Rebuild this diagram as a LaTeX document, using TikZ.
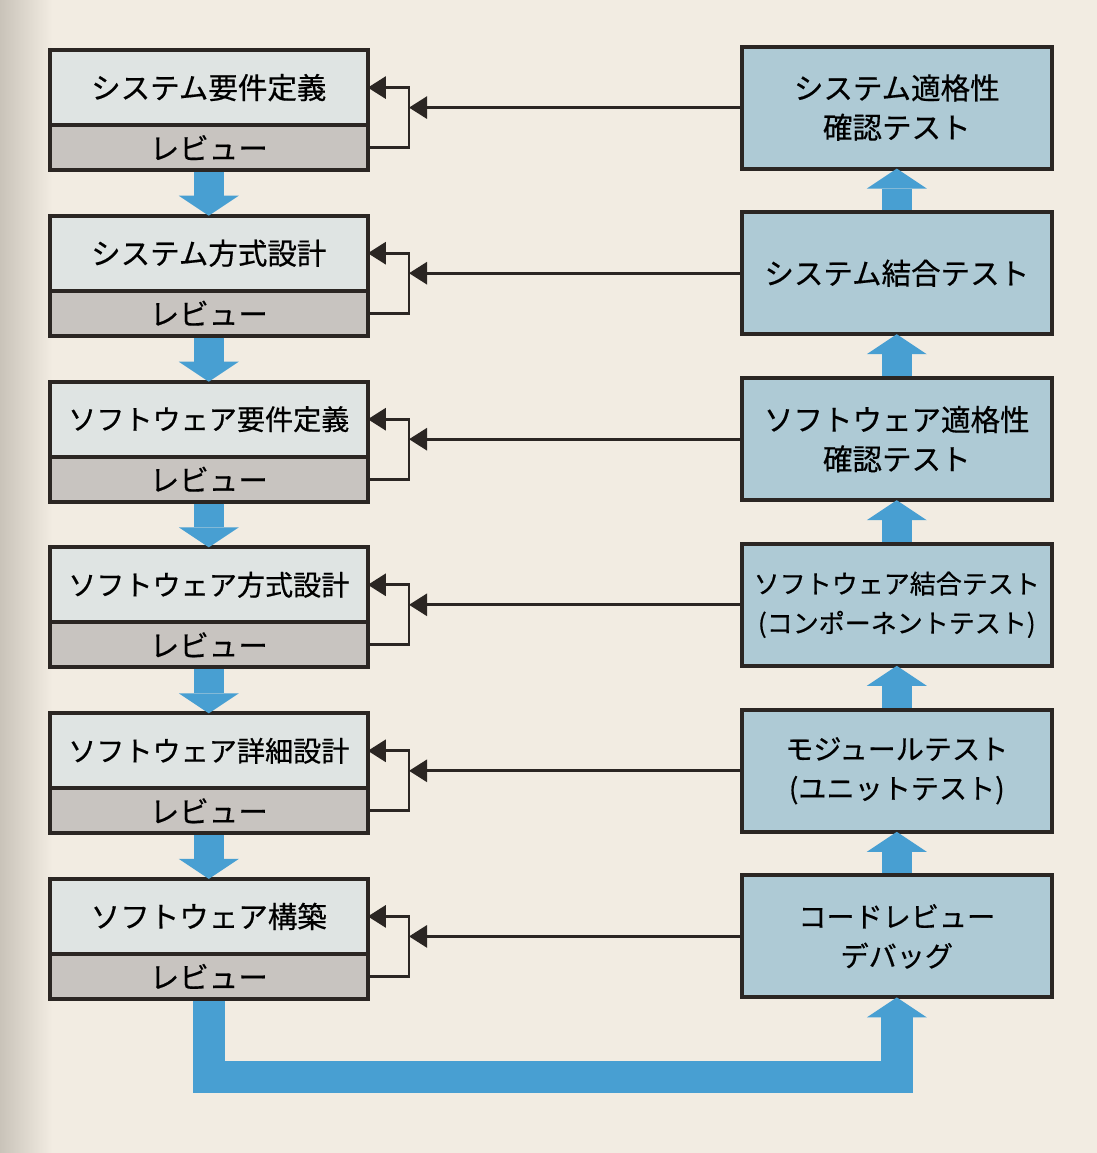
\documentclass[tikz,border=0pt]{standalone}
\usepackage{fontspec}
\newfontfamily\jpfont[FakeBold=0.5]{Noto Sans CJK JP}
\usetikzlibrary{arrows.meta, calc}

\definecolor{paper}{HTML}{F2ECE2}
\definecolor{pageedge}{HTML}{C9C3B9}
\definecolor{ink}{HTML}{2B2623}
\definecolor{titlefill}{HTML}{DFE4E3}
\definecolor{reviewfill}{HTML}{C8C4C0}
\definecolor{testfill}{HTML}{AECAD5}
\definecolor{flowblue}{HTML}{489FD2}

\tikzset{
  titlebox/.style={draw=ink, line width=2.8pt, fill=titlefill, minimum width=7.95cm,
    minimum height=1.875cm, inner sep=0pt, outer sep=0pt, font=\jpfont\fontsize{21}{28}\selectfont},
  reviewbox/.style={titlebox, fill=reviewfill, minimum height=1.125cm, anchor=north},
  testbox/.style={titlebox, fill=testfill, minimum width=7.75cm, minimum height=3.05cm, align=center},
  smalltext/.style={font=\jpfont\fontsize{20}{28}\selectfont},
  tinytext/.style={font=\jpfont\fontsize{18.5}{28}\selectfont},
  feedback/.style={draw=ink, line width=2pt, -{Triangle[length=0.45cm, width=0.55cm]}},
  flow/.style={draw=flowblue, line width=0.75cm, -{Triangle[length=0.5cm, width=1.5cm, line width=0pt]}}
}

\begin{document}
\begin{tikzpicture}

%% page
\fill[paper] (0,0) rectangle (27.425,-28.825);
\shade[left color=pageedge, right color=paper] (0,0) rectangle (1.3,-28.825);

%%Paramaters
%% column position, can be modified
\def\leftX{5.22}
\def\rightX{22.42}
\def\loopGap{1.03}

%% ***Row 1 : system requirements***
\node[titlebox] (req1) at (\leftX, -2.19) {システム要件定義};
\node[reviewbox] (rev1) at (req1.south) {レビュー};
\node[testbox] (test1) at (\rightX, -2.69) {システム適格性\\確認テスト};

%% ***Row 2 : system design***
\node[titlebox] (req2) at (\leftX, -6.33) {システム方式設計};
\node[reviewbox] (rev2) at (req2.south) {レビュー};
\node[testbox] (test2) at (\rightX, -6.83) {システム結合テスト};

%% ***Row 3 : software requirements***
\node[titlebox, smalltext] (req3) at (\leftX, -10.48) {ソフトウェア要件定義};
\node[reviewbox] (rev3) at (req3.south) {レビュー};
\node[testbox] (test3) at (\rightX, -10.98) {ソフトウェア適格性\\確認テスト};

%% ***Row 4 : software design***
\node[titlebox, smalltext] (req4) at (\leftX, -14.62) {ソフトウェア方式設計};
\node[reviewbox] (rev4) at (req4.south) {レビュー};
\node[testbox, tinytext] (test4) at (\rightX, -15.12) {ソフトウェア結合テスト\\(コンポーネントテスト)};

%% ***Row 5 : detailed design***
\node[titlebox, smalltext] (req5) at (\leftX, -18.77) {ソフトウェア詳細設計};
\node[reviewbox] (rev5) at (req5.south) {レビュー};
\node[testbox, smalltext] (test5) at (\rightX, -19.27) {モジュールテスト\\(ユニットテスト)};

%% ***Row 6 : construction***
\node[titlebox] (req6) at (\leftX, -22.91) {ソフトウェア構築};
\node[reviewbox] (rev6) at (req6.south) {レビュー};
\node[testbox, smalltext] (test6) at (\rightX, -23.41) {コードレビュー\\デバッグ};

%% Review loops and feedback from the tests
\draw[feedback] (rev1.east) -- ++(\loopGap, 0) coordinate (k1) |- (req1.east);
\draw[feedback] (test1.west) -- (test1.west -| k1);
\draw[feedback] (rev2.east) -- ++(\loopGap, 0) coordinate (k2) |- (req2.east);
\draw[feedback] (test2.west) -- (test2.west -| k2);
\draw[feedback] (rev3.east) -- ++(\loopGap, 0) coordinate (k3) |- (req3.east);
\draw[feedback] (test3.west) -- (test3.west -| k3);
\draw[feedback] (rev4.east) -- ++(\loopGap, 0) coordinate (k4) |- (req4.east);
\draw[feedback] (test4.west) -- (test4.west -| k4);
\draw[feedback] (rev5.east) -- ++(\loopGap, 0) coordinate (k5) |- (req5.east);
\draw[feedback] (test5.west) -- (test5.west -| k5);
\draw[feedback] (rev6.east) -- ++(\loopGap, 0) coordinate (k6) |- (req6.east);
\draw[feedback] (test6.west) -- (test6.west -| k6);

%% Down the left side
\draw[flow] ([yshift=-1.4pt]rev1.south) -- (req2.north);
\draw[flow] ([yshift=-1.4pt]rev2.south) -- (req3.north);
\draw[flow] ([yshift=-1.4pt]rev3.south) -- (req4.north);
\draw[flow] ([yshift=-1.4pt]rev4.south) -- (req5.north);
\draw[flow] ([yshift=-1.4pt]rev5.south) -- (req6.north);

%% Across the bottom
\draw[flow, line width=0.8cm] ([yshift=-1.4pt]rev6.south) -- ++(0, -1.9) -| (test6.south);

%% Up the right side
\draw[flow] ([yshift=1.4pt]test6.north) -- (test5.south);
\draw[flow] ([yshift=1.4pt]test5.north) -- (test4.south);
\draw[flow] ([yshift=1.4pt]test4.north) -- (test3.south);
\draw[flow] ([yshift=1.4pt]test3.north) -- (test2.south);
\draw[flow] ([yshift=1.4pt]test2.north) -- (test1.south);
\end{tikzpicture}
\end{document}
